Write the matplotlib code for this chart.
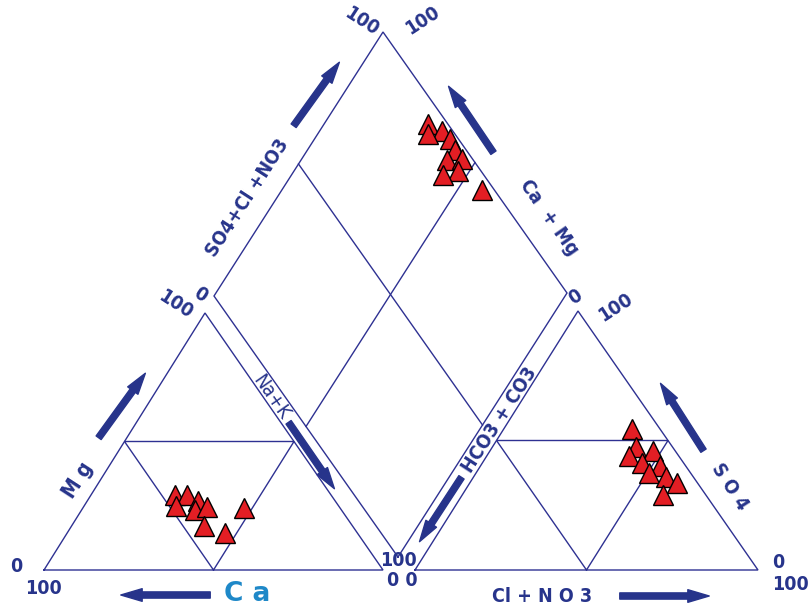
import numpy as np
import matplotlib.pyplot as plt
from matplotlib.patches import FancyArrowPatch

# cation percentages (meq %), Na+K is the remainder
ca = [46, 42.5, 40.5, 48, 43, 39, 44, 39, 28.5]
mg = [29, 29, 27, 25, 23.5, 24.5, 17, 14.5, 24]

# anion percentages, HCO3+CO3 is the remainder
so4 = [54.5, 47.5, 44, 46, 41.5, 40, 37.5, 36, 33.5, 29]
cl = [37.5, 42, 41.5, 47.5, 46.5, 52.5, 50.5, 56, 60.5, 58.5]

# central field
so4_cl = [94.5, 97, 92.5, 97.5, 97, 92.5, 97, 93.5, 88.5, 96.5]
ca_mg = [70.5, 65, 68.5, 61.5, 58, 58.5, 54.5, 53.5, 57, 43]

LINE = '#2E3192'
TXT = '#27348B'
RED = '#E31E24'
FONT = ['DejaVu Sans']

# corners of the three fields (canvas units)
CA_V, NAK_V, MG_V = np.array([44, 570]), np.array([383, 570]), np.array([205, 313])
HCO3_V, CL_V, SO4_V = np.array([415, 570]), np.array([758, 570]), np.array([578, 311])
D_BOT, D_LEFT, D_RIGHT = np.array([398, 557]), np.array([214, 296]), np.array([567, 293])
D_TOP = D_LEFT + D_RIGHT - D_BOT


def tern(w1, w2, v1, v2, v3):
    w1 = np.asarray(w1) / 100.0
    w2 = np.asarray(w2) / 100.0
    w3 = 1 - w1 - w2
    return (np.outer(w1, v1) + np.outer(w2, v2) + np.outer(w3, v3)).T


def diamond(s, c):
    s = np.asarray(s) / 100.0
    c = np.asarray(c) / 100.0
    return (D_BOT[:, None] + np.outer(D_RIGHT - D_BOT, s) + np.outer(D_LEFT - D_BOT, c))


def outline(ax, pts):
    pts = np.array(pts + [pts[0]])
    ax.plot(pts[:, 0], pts[:, 1], color=LINE, lw=1.0, solid_joinstyle='miter')


def arrow(ax, tail, head):
    ax.add_patch(FancyArrowPatch(tail, head, color=TXT, mutation_scale=14,
                                 arrowstyle='simple,head_length=1.1,head_width=0.65,tail_width=0.32'))


def label(ax, x, y, s, rot=0, size=14, color=TXT, weight='bold', stretch='condensed'):
    ax.text(x, y, s, rotation=rot, ha='center', va='center', fontsize=size,
            color=color, fontweight=weight, fontstretch=stretch, family=FONT,
            rotation_mode='anchor')


fig = plt.figure(figsize=(8.09, 6.09), dpi=100)
ax = fig.add_axes([0, 0, 1, 1])
ax.set_xlim(0, 809)
ax.set_ylim(609, 0)
ax.axis('off')

# triangles with their mid-point subdivisions
for a, b, c in [(CA_V, NAK_V, MG_V), (HCO3_V, CL_V, SO4_V)]:
    outline(ax, [a, b, c])
    outline(ax, [(a + b) / 2, (b + c) / 2, (a + c) / 2])

outline(ax, [D_BOT, D_RIGHT, D_TOP, D_LEFT])
for p, q in [((D_LEFT + D_TOP) / 2, (D_BOT + D_RIGHT) / 2),
             ((D_TOP + D_RIGHT) / 2, (D_LEFT + D_BOT) / 2)]:
    ax.plot([p[0], q[0]], [p[1], q[1]], color=LINE, lw=1.0)

mk = dict(marker='^', ms=14.5, mfc=RED, mec='black', mew=1.0, ls='none')
for xy in [tern(ca, mg, CA_V, MG_V, NAK_V),
           tern(so4, cl, SO4_V, CL_V, HCO3_V),
           diamond(so4_cl, ca_mg)]:
    for x, y in zip(*xy):
        ax.plot(x, y, **mk)

# axis names and direction arrows
label(ax, 247, 198, 'SO4+Cl +NO3', rot=57)
arrow(ax, (292, 128), (341, 60))
label(ax, 549, 218, 'Ca  + Mg', rot=-55)
arrow(ax, (495, 155), (447, 84))
label(ax, 78, 480, 'M g', rot=57, size=15)
arrow(ax, (97, 440), (147, 371))
label(ax, 271, 397, 'Na+K', rot=-55, weight='normal')
arrow(ax, (287, 420), (336, 491))
label(ax, 500, 420, 'HCO3 + CO3', rot=57)
arrow(ax, (463, 475), (418, 544))
label(ax, 730, 487, 'S O 4', rot=-57)
arrow(ax, (705, 453), (659, 381))
label(ax, 542, 597, 'Cl + N O 3')
arrow(ax, (617, 596), (712, 596))
label(ax, 247, 594, 'C a', size=19, color='#1E88C8', stretch='normal')
arrow(ax, (213, 595), (118, 595))

# end values
label(ax, 361, 21, '100', rot=-33)
label(ax, 422, 20, '100', rot=33)
label(ax, 175, 304, '100', rot=-33)
label(ax, 200, 295, '0', rot=-33)
label(ax, 575, 297, '0', rot=33)
label(ax, 615, 307, '100', rot=33)
label(ax, 16, 567, '0')
label(ax, 43, 588, '100')
label(ax, 398, 561, '100')
label(ax, 402, 580, '0 0')
label(ax, 778, 563, '0')
label(ax, 790, 585, '100')

fig.savefig('out.png', dpi=100)
